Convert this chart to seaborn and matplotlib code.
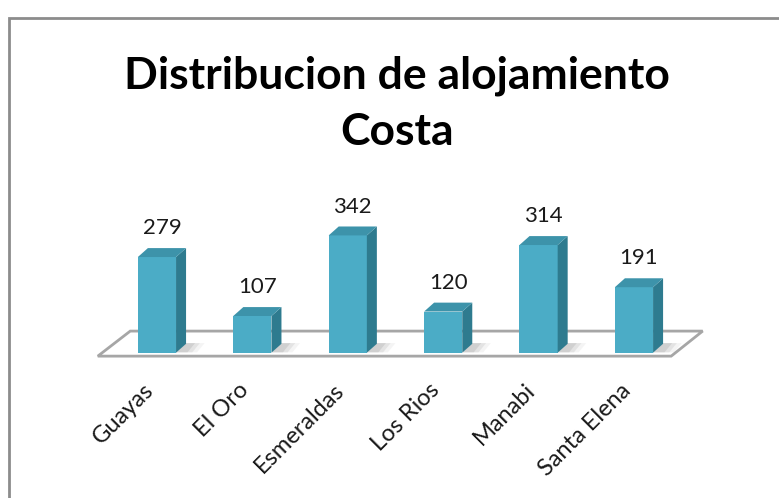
import matplotlib
matplotlib.use('Agg')
import matplotlib.pyplot as plt
from matplotlib.patches import Polygon, Rectangle
import seaborn as sns
import pandas as pd

sns.set_style('white')
plt.rcParams['font.family'] = ['Lato', 'DejaVu Sans']

# data
provincias = ['Guayas', 'El Oro', 'Esmeraldas', 'Los Rios', 'Manabi', 'Santa Elena']
alojamientos = [279, 107, 342, 120, 314, 191]
titulo = 'Distribucion de alojamiento\nCosta'

df = pd.DataFrame({'provincia': provincias, 'total': alojamientos})

front = '#4BACC6'
side = '#2E7B8F'
top = '#3D93AA'

fig = plt.figure(figsize=(7.79, 4.98), dpi=100)
# axes placed so that value 0 sits on the floor
ax = fig.add_axes([100 / 779, 145.3 / 498, 600 / 779, 202.7 / 498])

bar_w = 0.40
sns.barplot(data=df, x='provincia', y='total', color=front, width=bar_w,
            saturation=1, ax=ax, zorder=3, edgecolor='none')
ax.set_xlim(-0.597, 5.692)
ax.set_ylim(0, 591)
ax.axis('off')

bars = list(ax.patches)

# depth of the 3d effect (data units)
dx = 0.105
dy = 26

# floor
n = len(provincias)
floor = Polygon([(-0.62, -10), (n - 1 + 0.39, -10), (n - 1 + 0.72, 63), (-0.28, 63)],
                closed=True, facecolor='white', edgecolor='#A6A6A6', lw=2,
                zorder=1, clip_on=False)
ax.add_patch(floor)

for i, bar in enumerate(bars):
    x0 = bar.get_x()
    x1 = x0 + bar.get_width()
    h = bar.get_height()
    # soft shadow on the floor
    for k, a in enumerate([0.25, 0.18, 0.10]):
        ax.add_patch(Polygon([(x1, 1), (x1 + 0.12 + 0.05 * k, 1),
                              (x1 + 0.20 + 0.05 * k, 28), (x1 + dx, 28)],
                             closed=True, facecolor='#9A9A9A', edgecolor='none',
                             zorder=2, clip_on=False, alpha=a))
    ax.add_patch(Polygon([(x1, 0), (x1 + dx, dy), (x1 + dx, h + dy), (x1, h)],
                         closed=True, facecolor=side, edgecolor='none', zorder=3,
                         clip_on=False))
    ax.add_patch(Polygon([(x0, h), (x1, h), (x1 + dx, h + dy), (x0 + dx, h + dy)],
                         closed=True, facecolor=top, edgecolor='none', zorder=3,
                         clip_on=False))
    ax.text(x0 + (x1 - x0) / 2 + dx / 2, h + dy + 58, f'{alojamientos[i]}',
            ha='center', va='center', fontsize=16, color='#1a1a1a', clip_on=False)

# category labels, rotated like excel
for i, name in enumerate(provincias):
    ax.text(i - 0.07, -100, name, rotation=45, ha='right', va='center',
            rotation_mode='anchor', fontsize=17, color='#1a1a1a', clip_on=False)

fig.text(397 / 779, 1 - 56 / 498, titulo, ha='center', va='top',
         fontsize=32, fontweight='bold', linespacing=1.48, color='black')

# chart area border
fig.patches.append(Rectangle((9 / 779, -0.05), 1.0, 1 - 18 / 498 + 0.05,
                             transform=fig.transFigure, fill=False,
                             edgecolor='#8C8C8C', lw=2))

fig.savefig('out.png', dpi=100)
